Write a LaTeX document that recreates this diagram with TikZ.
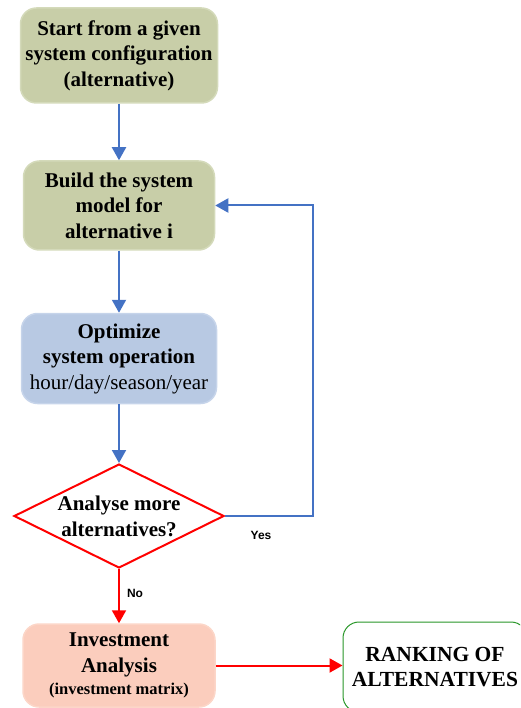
\documentclass[tikz,border=0pt]{standalone}
\usepackage{fontspec}
\setmainfont{Liberation Serif}
\newfontfamily\labelsans{Liberation Sans}
\usetikzlibrary{arrows.meta,shapes.geometric}
\definecolor{sage}{RGB}{200,206,168}
\definecolor{sageedge}{RGB}{212,218,186}
\definecolor{paleblue}{RGB}{184,201,227}
\definecolor{paleblueedge}{RGB}{198,212,234}
\definecolor{salmon}{RGB}{251,205,189}
\definecolor{salmonedge}{RGB}{252,214,200}
\definecolor{flowblue}{RGB}{68,114,196}
\definecolor{flowred}{RGB}{255,0,0}
\definecolor{okgreen}{RGB}{40,150,40}
\begin{document}
\begin{tikzpicture}[x=1pt,y=-1pt,
  box/.style={rectangle, rounded corners=16pt, align=center, inner sep=0pt,
    line width=1.5pt, font=\fontsize{21}{25.5}\selectfont\bfseries},
  greenbox/.style={box, fill=sage, draw=sageedge},
  bluebox/.style={box, fill=paleblue, draw=paleblueedge},
  redbox/.style={box, fill=salmon, draw=salmonedge},
  resultbox/.style={box, fill=white, draw=okgreen, line width=1pt,
    font=\fontsize{21.5}{25}\selectfont\bfseries},
  decision/.style={diamond, draw=flowred, line width=2pt, fill=white,
    minimum width=210pt, minimum height=104pt, inner sep=0pt},
  blueflow/.style={draw=flowblue, line width=2pt,
    -{Triangle[width=14pt,length=13pt]}},
  redflow/.style={draw=flowred, line width=2pt,
    -{Triangle[width=14pt,length=13pt]}},
  tag/.style={font=\labelsans\fontsize{12}{14}\selectfont\bfseries}
]
\useasboundingbox (0,0) rectangle (520,708);
\clip (0,0) rectangle (520,708);

% process boxes
\node[greenbox, minimum width=197pt, minimum height=95pt] (start) at (119,55.5)
  {Start from a given\\system configuration\\(alternative)};
\node[greenbox, minimum width=191pt, minimum height=89pt] (model) at (119,205.5)
  {Build the system\\model for\\alternative i};
\node[bluebox, minimum width=195pt, minimum height=90pt] (opt) at (119,358.5)
  {Optimize\\system operation\\{\mdseries hour/day/season/year}};
\node[decision] (dec) at (119,516) {};
\node[align=center, font=\fontsize{21}{26}\selectfont\bfseries] (dectext) at (dec)
  {Analyse more\\alternatives?};
\node[redbox, minimum width=192pt, minimum height=83pt] (invest) at (119,665.5)
  {Investment\\Analysis\\[-3pt]{\fontsize{16.5}{18}\selectfont (investment matrix)}};
\node[resultbox, minimum width=184pt, minimum height=90pt] (rank) at (435,667)
  {RANKING OF\\ALTERNATIVES};

% connectors
\draw[blueflow] (start) -- (model);
\draw[blueflow] (model) -- (opt);
\draw[blueflow] (opt) -- (dec.north);
\coordinate (loop) at (313,516);
\draw[blueflow] (dec.east) -- (loop) |- (model.east);
\draw[redflow] (dec.south) -- (invest.north);
\draw[redflow] (invest.east) -- (invest.east -| rank.west);

% branch labels
\node[tag] (yes) at (261,535) {Yes};
\node[tag] (no) at (135,593) {No};
\end{tikzpicture}
\end{document}
